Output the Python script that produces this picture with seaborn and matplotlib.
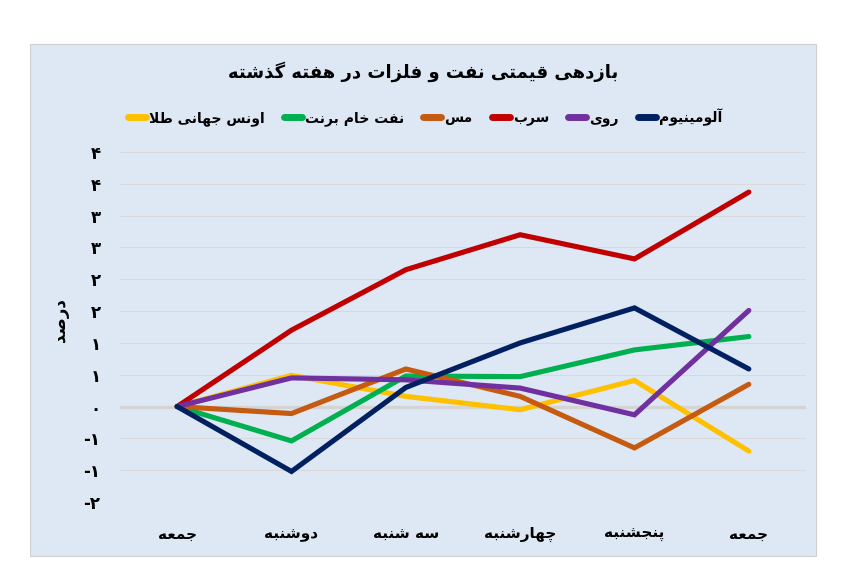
import pandas as pd
import matplotlib
matplotlib.use('Agg')
import matplotlib.pyplot as plt
from matplotlib.lines import Line2D
from matplotlib.patches import Rectangle
import seaborn as sns

days = ['جمعه', 'دوشنبه', 'سه شنبه', 'چهارشنبه', 'پنجشنبه', 'جمعه']
series_names = ['اونس جهانی طلا', 'نفت خام برنت', 'مس', 'سرب', 'روی', 'آلومینیوم']
gold = [0, 0.49, 0.16, -0.05, 0.41, -0.70]
brent = [0, -0.54, 0.48, 0.47, 0.89, 1.10]
copper = [0, -0.11, 0.59, 0.16, -0.65, 0.35]
lead = [0, 1.20, 2.15, 2.70, 2.32, 3.37]
zinc = [0, 0.45, 0.42, 0.29, -0.13, 1.51]
aluminium = [0, -1.02, 0.30, 1.00, 1.55, 0.59]
colors = ['#FFC000', '#00B050', '#C55A11', '#C00000', '#7030A0', '#002060']
y_ticks = [-1.5, -1, -0.5, 0, 0.5, 1, 1.5, 2, 2.5, 3, 3.5, 4]
y_labels = ['-۲', '-۱', '-۱', '۰', '۱', '۱', '۲', '۲', '۳', '۳', '۴', '۴']
title = 'بازدهی قیمتی نفت و فلزات در هفته گذشته'
y_title = 'درصد'

# matplotlib has no arabic shaping -> use presentation forms + reverse
# (isolated, final, initial, medial)
FORMS = {
    'ا': ('\uFE8D', '\uFE8E', None, None),
    'آ': ('\uFE81', '\uFE82', None, None),
    'ب': ('\uFE8F', '\uFE90', '\uFE91', '\uFE92'),
    'ت': ('\uFE95', '\uFE96', '\uFE97', '\uFE98'),
    'ج': ('\uFE9D', '\uFE9E', '\uFE9F', '\uFEA0'),
    'خ': ('\uFEA5', '\uFEA6', '\uFEA7', '\uFEA8'),
    'د': ('\uFEA9', '\uFEAA', None, None),
    'ذ': ('\uFEAB', '\uFEAC', None, None),
    'ر': ('\uFEAD', '\uFEAE', None, None),
    'ز': ('\uFEAF', '\uFEB0', None, None),
    'س': ('\uFEB1', '\uFEB2', '\uFEB3', '\uFEB4'),
    'ش': ('\uFEB5', '\uFEB6', '\uFEB7', '\uFEB8'),
    'ص': ('\uFEB9', '\uFEBA', '\uFEBB', '\uFEBC'),
    'ط': ('\uFEC1', '\uFEC2', '\uFEC3', '\uFEC4'),
    'ع': ('\uFEC9', '\uFECA', '\uFECB', '\uFECC'),
    'ف': ('\uFED1', '\uFED2', '\uFED3', '\uFED4'),
    'ق': ('\uFED5', '\uFED6', '\uFED7', '\uFED8'),
    'ل': ('\uFEDD', '\uFEDE', '\uFEDF', '\uFEE0'),
    'م': ('\uFEE1', '\uFEE2', '\uFEE3', '\uFEE4'),
    'ن': ('\uFEE5', '\uFEE6', '\uFEE7', '\uFEE8'),
    'ه': ('\uFEE9', '\uFEEA', '\uFEEB', '\uFEEC'),
    'و': ('\uFEED', '\uFEEE', None, None),
    'ی': ('\uFBFC', '\uFBFD', '\uFBFE', '\uFBFF'),
    'پ': ('\uFB56', '\uFB57', '\uFB58', '\uFB59'),
    'چ': ('\uFB7A', '\uFB7B', '\uFB7C', '\uFB7D'),
    'گ': ('\uFB92', '\uFB93', '\uFB94', '\uFB95'),
}
LAM_ALEF = {'ا': ('\uFEFB', '\uFEFC'), 'آ': ('\uFEF5', '\uFEF6')}


def fa(text):
    out = []
    i = 0
    n = len(text)
    while i < n:
        c = text[i]
        if c not in FORMS:
            out.append(c)
            i += 1
            continue
        prev = text[i - 1] if i > 0 else ''
        join_prev = prev in FORMS and FORMS[prev][2] is not None
        if c == 'ل' and i + 1 < n and text[i + 1] in LAM_ALEF:
            out.append(LAM_ALEF[text[i + 1]][1 if join_prev else 0])
            i += 2
            continue
        nxt = text[i + 1] if i + 1 < n else ''
        join_next = FORMS[c][2] is not None and nxt in FORMS
        if join_prev and join_next:
            out.append(FORMS[c][3])
        elif join_prev:
            out.append(FORMS[c][1])
        elif join_next:
            out.append(FORMS[c][2])
        else:
            out.append(FORMS[c][0])
        i += 1
    return ''.join(out[::-1])


plt.rcParams['font.family'] = ['DejaVu Sans']

rows = []
for name, vals in zip(series_names, [gold, brent, copper, lead, zinc, aluminium]):
    for k, v in enumerate(vals):
        rows.append({'day': k, 'value': v, 'series': name})
df = pd.DataFrame(rows)

fig = plt.figure(figsize=(8.62, 5.8), dpi=100)
fig.patches.append(Rectangle((30 / 862, 1 - 556 / 580), 786 / 862, 512 / 580,
                             transform=fig.transFigure, facecolor='#DEE8F5',
                             edgecolor='#D0D0D0', linewidth=0.8, zorder=-10))

ax = fig.add_axes([120 / 862, 78 / 580, 686 / 862, 350 / 580])
ax.set_zorder(2)
ax.set_facecolor('none')

for yt in y_ticks:
    ax.axhline(yt, color='#D9D9D9', lw=0.8, zorder=0)
ax.axhline(0, color='#D4D4D4', lw=2.4, zorder=1)

sns.lineplot(data=df, x='day', y='value', hue='series', hue_order=series_names,
             palette=colors, linewidth=3.7, sort=False, legend=False, ax=ax,
             solid_capstyle='round', solid_joinstyle='miter', zorder=3)

ax.set_xlim(-0.5, 5.5)
ax.set_ylim(-1.5, 4)
ax.set_xticks(range(len(days)))
ax.set_xticklabels([fa(d) for d in days], fontsize=11, fontweight='bold')
ax.set_yticks(y_ticks)
ax.set_yticklabels(y_labels, fontsize=12, fontweight='bold')
ax.tick_params(axis='x', length=0, pad=18)
ax.tick_params(axis='y', length=0, pad=14)
ax.set_xlabel('')
ax.set_ylabel('')
for s in ax.spines.values():
    s.set_visible(False)

fig.text(60 / 862, 1 - 320 / 580, fa(y_title), rotation=90, ha='center', va='center',
         fontsize=12, fontweight='bold')
fig.text(423 / 862, 1 - 72 / 580, fa(title), ha='center', va='center',
         fontsize=13, fontweight='bold')

handles = [Line2D([0], [0], color=c, lw=5, solid_capstyle='round') for c in colors]
fig.legend(handles, [fa(s) for s in series_names], loc='center',
           bbox_to_anchor=(425 / 862, 1 - 117 / 580), ncol=6, frameon=False,
           handlelength=1.3, handletextpad=0.2, columnspacing=1.4,
           prop={'size': 10, 'weight': 'bold'})

fig.savefig('out.png', dpi=100, facecolor='white')
